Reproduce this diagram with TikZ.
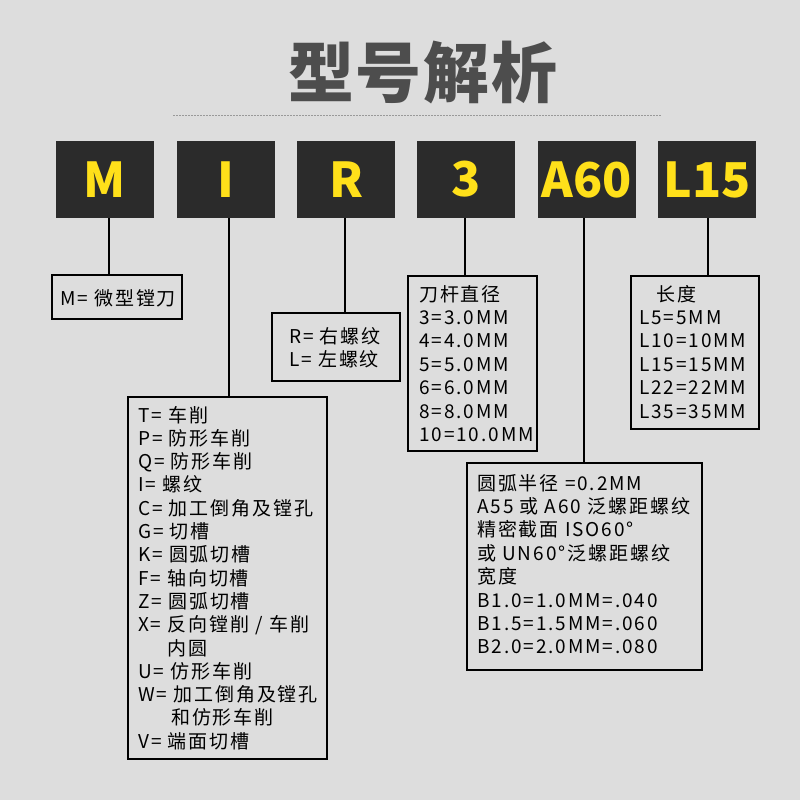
\documentclass[tikz,border=0pt]{standalone}
\usepackage{fontspec}
\setmainfont{Noto Sans CJK SC}
\newfontfamily\bodyfont{Noto Sans CJK SC}[LetterSpace=10]
\newfontfamily\titlefont{Noto Sans CJK SC}[LetterSpace=3]
\definecolor{bg}{HTML}{DDDDDD}
\definecolor{boxdark}{HTML}{2B2B2B}
\definecolor{codeyellow}{HTML}{FFE01A}
\definecolor{titlegray}{HTML}{4D4D4D}
\tikzset{
  codebox/.style={fill=boxdark, minimum width=98, minimum height=77, inner sep=0, text=codeyellow,
    font=\fontsize{48}{48}\selectfont\bfseries},
  tbox/.style={draw=black, line width=1.6pt, inner sep=0},
  txt/.style={anchor=base west, inner sep=0, font=\bodyfont\fontsize{19}{22}\selectfont},
  link/.style={draw=black, line width=1.6pt},
}
\begin{document}
\begin{tikzpicture}[x=1pt,y=-1pt]
\fill[bg] (0,0) rectangle (800,800);
\useasboundingbox (0,0) rectangle (800,800);
% title
\node[inner sep=0, text=titlegray, font=\titlefont\fontsize{66}{66}\selectfont\bfseries] (title) at (423,73) {型号解析};
\draw[gray!80, line width=0.6pt, dash pattern=on 2pt off 1pt] (173,115) -- (661,115);
% code boxes
\node[codebox] (bM) at (105,179.5) {M};
\node[codebox] (bI) at (226,179.5) {I};
\node[codebox] (bR) at (346,179.5) {R};
\node[codebox] (b3) at (466,179.5) {3};
\node[codebox] (bA) at (587,179.5) {A60};
\node[codebox] (bL) at (707,179.5) {L15};
% text boxes
\node[tbox, minimum width=130, minimum height=44] (tM) at (117,297) {};
\node[tbox, minimum width=128, minimum height=68] (tR) at (336,347) {};
\node[tbox, minimum width=199, minimum height=362] (tI) at (227.5,578) {};
\node[tbox, minimum width=129, minimum height=175] (t3) at (472.5,363.5) {};
\node[tbox, minimum width=235, minimum height=207] (tA) at (584.5,566.5) {};
\node[tbox, minimum width=128, minimum height=153] (tL) at (695,352.5) {};
% connectors
\draw[link] ([xshift=4]bM.south) -- ([xshift=4]bM.south |- tM.north);
\draw[link] ([xshift=3]bI.south) -- ([xshift=3]bI.south |- tI.north);
\draw[link] ([xshift=-1]bR.south) -- ([xshift=-1]bR.south |- tR.north);
\draw[link] ([xshift=-1]b3.south) -- ([xshift=-1]b3.south |- t3.north);
\draw[link] ([xshift=-3]bA.south) -- ([xshift=-3]bA.south |- tA.north);
\draw[link] ([xshift=1]bL.south) -- ([xshift=1]bL.south |- tL.north);
% texts
\node[txt] (xM) at (60,305) {M= 微型镗刀};
\foreach \t [count=\i] in {R= 右螺纹, L= 左螺纹}
  \node[txt] (xR\i) at (289,{343+(\i-1)*23.4}) {\t};
\foreach \t [count=\i] in {T= 车削, P= 防形车削, Q= 防形车削, I= 螺纹, C= 加工倒角及镗孔, G= 切槽,
  K= 圆弧切槽, F= 轴向切槽, Z= 圆弧切槽, X= 反向镗削 / 车削, {\hspace*{29pt}内圆}, U= 仿形车削,
  W= 加工倒角及镗孔, {\hspace*{33pt}和仿形车削}, V= 端面切槽}
  \node[txt] (xI\i) at (138,{422+(\i-1)*23.3}) {\t};
\foreach \t [count=\i] in {刀杆直径, 3=3.0MM, 4=4.0MM, 5=5.0MM, 6=6.0MM, 8=8.0MM, 10=10.0MM}
  \node[txt] (x3\i) at (419,{301+(\i-1)*23.4}) {\t};
\foreach \t [count=\i] in {{\hspace*{17pt}长度}, L5=5MM, L10=10MM, L15=15MM, L22=22MM, L35=35MM}
  \node[txt] (xL\i) at (639,{301+(\i-1)*23.4}) {\t};
\foreach \t [count=\i] in {圆弧半径 =0.2MM, A55 或 A60 泛螺距螺纹, 精密截面 ISO60°, 或 UN60°泛螺距螺纹,
  宽度, B1.0=1.0MM=.040, B1.5=1.5MM=.060, B2.0=2.0MM=.080}
  \node[txt] (xA\i) at (477,{490+(\i-1)*23.4}) {\t};
\end{tikzpicture}
\end{document}
